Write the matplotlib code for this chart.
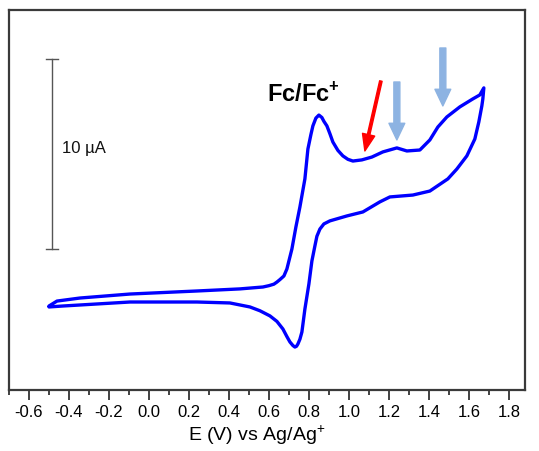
import matplotlib
matplotlib.use("Agg")
import matplotlib.pyplot as plt
from matplotlib.ticker import MultipleLocator

plt.rcParams['font.family'] = ['Liberation Sans', 'DejaVu Sans']
plt.rcParams['mathtext.fontset'] = 'custom'
plt.rcParams['mathtext.rm'] = 'Liberation Sans'
plt.rcParams['mathtext.bf'] = 'Liberation Sans:bold'

# Cyclic voltammogram (E in V, I in uA, arbitrary offset)
# forward (anodic) scan from left vertex to right vertex
E_fwd = [-0.50, -0.46, -0.345, -0.095, 0.24, 0.455, 0.57, 0.60, 0.625, 0.64,
         0.655, 0.675, 0.69, 0.715, 0.735, 0.755, 0.78, 0.795, 0.81, 0.82,
         0.835, 0.85, 0.865, 0.875, 0.89, 0.905, 0.92, 0.945, 0.97, 0.995,
         1.02, 1.065, 1.115, 1.17, 1.24, 1.29, 1.355, 1.405, 1.445, 1.49,
         1.555, 1.62, 1.655, 1.675]
I_fwd = [-0.37, -0.11, 0.05, 0.26, 0.42, 0.53, 0.63, 0.70, 0.78, 0.89,
         1.02, 1.21, 1.58, 2.63, 3.79, 4.84, 6.32, 7.89, 8.65, 9.11,
         9.52, 9.68, 9.55, 9.35, 9.11, 8.70, 8.26, 7.82, 7.53, 7.35,
         7.26, 7.32, 7.47, 7.74, 7.95, 7.79, 7.84, 8.37, 9.05, 9.58,
         10.11, 10.53, 10.74, 11.11]
# reverse (cathodic) scan back to the left vertex
E_rev = [1.67, 1.665, 1.65, 1.63, 1.59, 1.54, 1.495, 1.405, 1.32, 1.205,
         1.155, 1.07, 0.99, 0.905, 0.875, 0.855, 0.84, 0.83, 0.815, 0.80,
         0.78, 0.765, 0.755, 0.745, 0.738, 0.73, 0.72, 0.705, 0.69, 0.67,
         0.64, 0.605, 0.555, 0.505, 0.405, 0.24, -0.095, -0.43, -0.50]
I_rev = [10.53, 10.16, 9.32, 8.42, 7.53, 6.84, 6.32, 5.68, 5.47, 5.37,
         5.11, 4.58, 4.37, 4.11, 3.95, 3.68, 3.30, 2.79, 2.0, 0.79,
         -0.53, -1.74, -2.12, -2.37, -2.49, -2.53, -2.45, -2.26, -1.98, -1.58,
         -1.18, -0.89, -0.62, -0.42, -0.21, -0.16, -0.16, -0.37, -0.42]

# scale bar (10 uA) and annotation arrows: (E_start, I_start, E_tip, I_tip)
SCALE_E = -0.485
SCALE_I = (2.63, 12.63)
BLUE_ARROWS = [(1.24, 11.42, 1.24, 8.37), (1.47, 13.21, 1.47, 10.16)]
RED_ARROW = (1.16, 11.47, 1.08, 7.79)

fig = plt.figure(figsize=(5.39, 4.52), dpi=100)
ax = fig.add_axes([0.0167, 0.135, 0.957, 0.8407])

ax.plot(E_fwd + E_rev, I_fwd + I_rev, color='#0000ff', lw=2.4,
        solid_joinstyle='round', solid_capstyle='round')

# scale bar
ax.plot([SCALE_E, SCALE_E], SCALE_I, color='#555555', lw=1)
for yy in SCALE_I:
    ax.plot([SCALE_E - 0.03, SCALE_E + 0.03], [yy, yy], color='#555555', lw=1)
ax.text(-0.435, 7.97, '10 µA', fontsize=12, va='center', ha='left', color='#111111')

ax.text(0.59, 10.42, r'$\mathbf{Fc/Fc}^{\mathbf{+}}$', fontsize=17,
        ha='left', va='baseline')

for x0, y0, x1, y1 in BLUE_ARROWS:
    ax.annotate('', xy=(x1, y1), xytext=(x0, y0),
                arrowprops=dict(arrowstyle='simple,head_length=1.0,head_width=0.95,tail_width=0.36',
                                color='#8db3e2', mutation_scale=12, shrinkA=0, shrinkB=0))
x0, y0, x1, y1 = RED_ARROW
ax.annotate('', xy=(x1, y1), xytext=(x0, y0),
            arrowprops=dict(arrowstyle='simple,head_length=1.0,head_width=0.75,tail_width=0.15',
                            color='#ff0000', mutation_scale=12, shrinkA=0, shrinkB=0))

ax.set_xlim(-0.7, 1.88)
ax.set_ylim(-4.79, 15.21)
ax.xaxis.set_minor_locator(MultipleLocator(0.1))
ax.set_xticks([round(-0.6 + 0.2 * i, 1) for i in range(13)])
ax.set_xticklabels(['%.1f' % (-0.6 + 0.2 * i) for i in range(13)])
ax.tick_params(axis='x', which='major', length=7, width=1.3, color='#333333',
               labelsize=12, pad=3, direction='out')
ax.tick_params(axis='x', which='minor', length=3.5, width=1.3, color='#333333',
               direction='out')
ax.set_yticks([])
for s in ax.spines.values():
    s.set_color('#3a3a3a')
    s.set_linewidth(1.6)

ax.set_xlabel(r'E (V) vs Ag/Ag$^{+}$', fontsize=14, labelpad=2)
ax.xaxis.set_label_coords(0.48, -0.085)

fig.savefig('out.png', dpi=100)
